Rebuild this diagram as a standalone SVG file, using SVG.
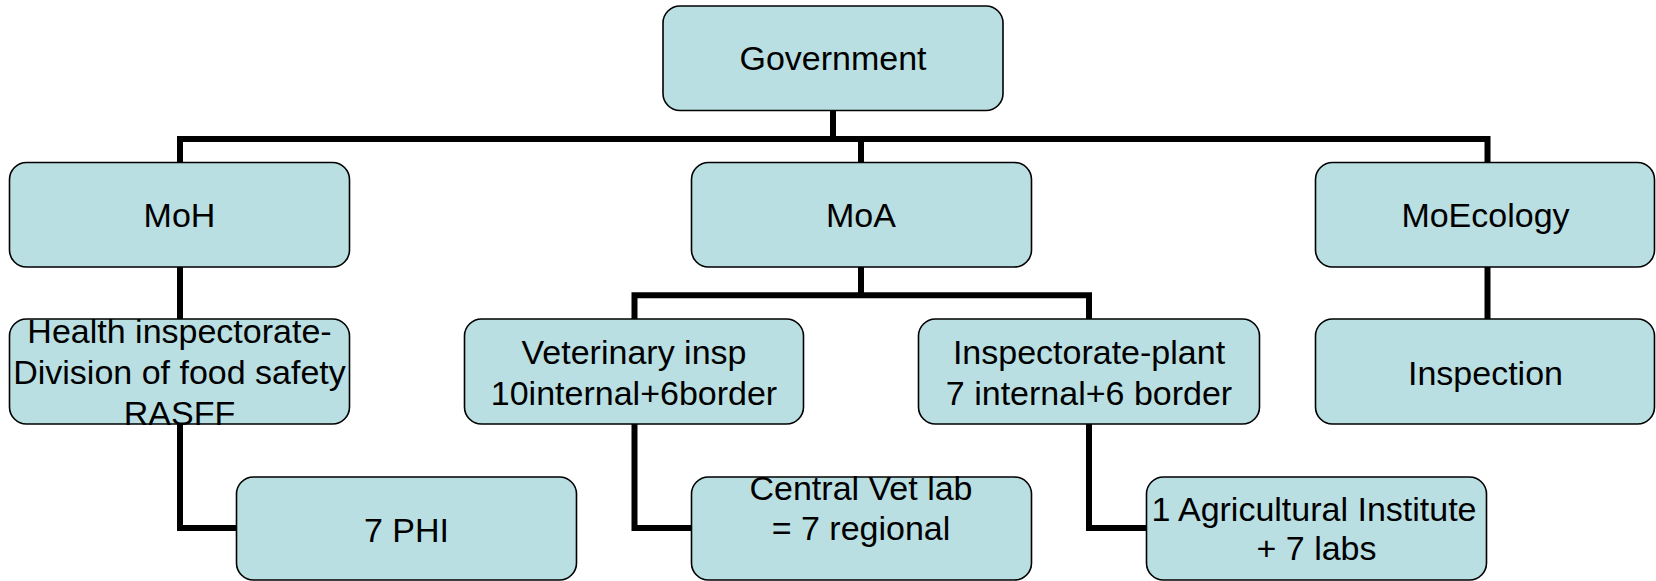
<svg xmlns="http://www.w3.org/2000/svg" width="1656" height="581" viewBox="0 0 1656 581">
<style>
.box{fill:#b9dfe2;stroke:#000;stroke-width:1.6}
.t{font-family:"Liberation Sans",Arial,sans-serif;font-size:34px;fill:#000;text-anchor:middle}
.c{fill:none;stroke:#000;stroke-width:6;stroke-linejoin:miter;stroke-linecap:butt}
</style>
<rect width="1656" height="581" fill="#fff"/>
<g id="connectors">
<path class="c" d="M833 110 V139"/>
<path class="c" d="M180 162 V139 H1487.5 V162"/>
<path class="c" d="M861 139 V162"/>
<path class="c" d="M180 267 V319"/>
<path class="c" d="M861 267 V295.3"/>
<path class="c" d="M634.5 319 V295.3 H1089 V319"/>
<path class="c" d="M1487.5 267 V319"/>
<path class="c" d="M180 424 V528 H237"/>
<path class="c" d="M634.5 424 V528 H691"/>
<path class="c" d="M1089 424 V528 H1147"/>
</g>
<g id="government"><rect class="box" x="663" y="6" width="340" height="104.5" rx="17"/><text class="t" x="833" y="70">Government</text></g>
<g id="moh"><rect class="box" x="9.5" y="162.5" width="340" height="104.5" rx="17"/><text class="t" x="179.5" y="227">MoH</text></g>
<g id="moa"><rect class="box" x="691.5" y="162.5" width="340" height="104.5" rx="17"/><text class="t" x="861" y="227">MoA</text></g>
<g id="moecology"><rect class="box" x="1315.5" y="162.5" width="339" height="104.5" rx="17"/><text class="t" x="1485.5" y="227">MoEcology</text></g>
<g id="health"><rect class="box" x="9.5" y="319" width="340" height="105" rx="17"/><text class="t" x="179.5" y="342.5">Health inspectorate-</text><text class="t" x="179.5" y="384">Division of food safety</text><text class="t" x="179.5" y="425">RASFF</text></g>
<g id="veterinary"><rect class="box" x="464.5" y="319" width="339" height="105" rx="17"/><text class="t" x="634" y="364">Veterinary insp</text><text class="t" x="634" y="404.5">10internal+6border</text></g>
<g id="plant"><rect class="box" x="918.5" y="319" width="341" height="105" rx="17"/><text class="t" x="1089" y="364">Inspectorate-plant</text><text class="t" x="1089" y="404.5">7 internal+6 border</text></g>
<g id="inspection"><rect class="box" x="1315.5" y="319" width="339" height="105" rx="17"/><text class="t" x="1485.5" y="385">Inspection</text></g>
<g id="phi"><rect class="box" x="236.5" y="477" width="340" height="103" rx="17"/><text class="t" x="406.5" y="541.5">7 PHI</text></g>
<g id="vetlab"><rect class="box" x="691.5" y="477" width="340" height="103" rx="17"/><text class="t" x="861" y="499.5">Central Vet lab</text><text class="t" x="861" y="540">= 7 regional</text></g>
<g id="agri"><rect class="box" x="1146.5" y="477" width="340" height="103" rx="17"/><text class="t" x="1314" y="520.5">1 Agricultural Institute</text><text class="t" x="1316.5" y="560">+ 7 labs</text></g>
</svg>
